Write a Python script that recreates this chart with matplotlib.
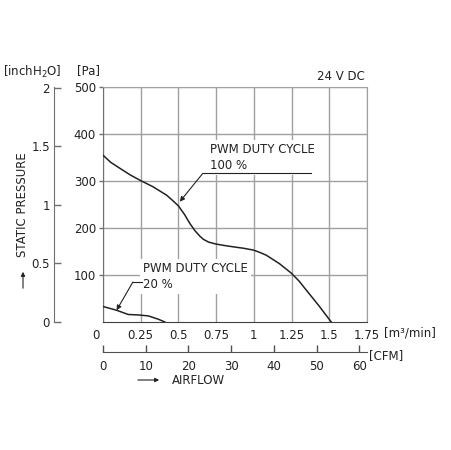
import numpy as np
import matplotlib
matplotlib.use("Agg")
import matplotlib.pyplot as plt

# airflow [m3/min] vs static pressure [Pa]
flow100 = [0, 0.05, 0.112, 0.18, 0.249, 0.33, 0.421, 0.46, 0.50, 0.54, 0.575, 0.61, 0.641,
           0.665, 0.70, 0.747, 0.80, 0.862, 0.93, 0.997, 1.04, 1.083, 1.17, 1.248, 1.30, 1.347,
           1.39, 1.435, 1.475, 1.513]
pa100 = [355, 340, 327, 313, 301, 288, 270, 259, 247, 229, 210, 194, 183,
         176, 170, 166, 163, 160, 157, 153, 148, 142, 124, 104, 87, 68,
         51, 33, 16, 0]
flow20 = [0, 0.09, 0.167, 0.233, 0.30, 0.366, 0.41]
pa20 = [33, 25, 16, 15, 13, 6, 0]

x_ticks = [0, 0.25, 0.5, 0.75, 1, 1.25, 1.5, 1.75]
x_labels = ["", "0.25", "0.5", "0.75", "1", "1.25", "1.5", "1.75"]
pa_ticks = [100, 200, 300, 400, 500]
inch_ticks = [0, 0.5, 1, 1.5, 2]
inch_labels = ["0", "0.5", "1", "1.5", "2"]
cfm_ticks = [0, 10, 20, 30, 40, 50, 60]

PA_PER_INCH = 249.09
CFM_PER_M3 = 35.3147

plt.rcParams['font.family'] = 'DejaVu Sans'
fs = 8.5
grid_c = '#a0a0a0'
spine_c = '#707070'

fig = plt.figure(figsize=(4.51, 4.50), dpi=100)
ax = fig.add_axes([103/451, 1-322/450, 264/451, 235/450])
ax.set_xlim(0, 1.75)
ax.set_ylim(0, 500)

ax.set_xticks(x_ticks)
ax.set_xticklabels(x_labels)
ax.set_yticks(pa_ticks)
ax.grid(True, color=grid_c, lw=1.0, zorder=0)
ax.set_axisbelow(True)
for s in ['top', 'right']:
    ax.spines[s].set_color(grid_c)
ax.spines['left'].set_color(spine_c)
ax.spines['bottom'].set_color('#404040')
ax.tick_params(axis='x', length=0, pad=5, labelsize=fs, colors='#222222')
ax.tick_params(axis='y', length=3, width=1, pad=2, labelsize=fs, color=spine_c, labelcolor='#222222')
ax.annotate("0", xy=(0, 0), xytext=(-7, -7), textcoords='offset pixels',
            ha='center', va='top', fontsize=fs, color='#222222', annotation_clip=False)

ax.plot(flow100, pa100, color='#222222', lw=1.1, zorder=3)
ax.plot(flow20, pa20, color='#222222', lw=1.1, zorder=3)

# labels for curves
ax.text(0.708, 381, "PWM DUTY CYCLE\n100 %", fontsize=fs, ha='left', va='top',
        linespacing=1.3, color='#222222', zorder=4,
        bbox=dict(fc='white', ec='none', pad=2))
ax.plot([0.661, 1.382], [316, 316], color='#222222', lw=0.8, zorder=4)
ax.annotate("", xy=(0.509, 256), xytext=(0.661, 316),
            arrowprops=dict(arrowstyle='-|>', color='#222222', lw=0.8, mutation_scale=7,
                            shrinkA=0, shrinkB=0), zorder=4)

ax.text(0.265, 128, "PWM DUTY CYCLE\n20 %", fontsize=fs, ha='left', va='top',
        linespacing=1.3, color='#222222', zorder=4,
        bbox=dict(fc='white', ec='none', pad=2))
ax.plot([0.198, 0.258], [85, 85], color='#222222', lw=0.8, zorder=4)
ax.annotate("", xy=(0.09, 25), xytext=(0.198, 85),
            arrowprops=dict(arrowstyle='-|>', color='#222222', lw=0.8, mutation_scale=7,
                            shrinkA=0, shrinkB=0), zorder=4)

# inchH2O axis
sy = ax.secondary_yaxis((54-103)/264, functions=(lambda p: p/PA_PER_INCH, lambda i: i*PA_PER_INCH))
sy.set_yticks(inch_ticks)
sy.set_yticklabels(inch_labels)
sy.spines['left'].set_color(spine_c)
sy.tick_params(direction='in', length=5, width=1, pad=3, labelsize=fs, color=spine_c, labelcolor='#222222')

# CFM axis
sx = ax.secondary_xaxis(-30/235, functions=(lambda m: m*CFM_PER_M3, lambda c: c/CFM_PER_M3))
sx.set_xticks(cfm_ticks)
sx.spines['bottom'].set_color('#505050')
sx.tick_params(direction='in', length=5, width=1, pad=6, labelsize=fs, color='#505050', labelcolor='#222222')

# axis titles
fig.text(3/451, 1-72/450, "[inchH$_2$O]", fontsize=fs, ha='left', va='center', color='#222222')
fig.text(77/451, 1-71/450, "[Pa]", fontsize=fs, ha='left', va='center', color='#222222')
fig.text(365/451, 1-77/450, "24 V DC", fontsize=fs, ha='right', va='center', color='#222222')
fig.text(384/451, 1-333/450, "[m³/min]", fontsize=fs, ha='left', va='center', color='#222222')
fig.text(369/451, 1-356/450, "[CFM]", fontsize=fs, ha='left', va='center', color='#222222')
fig.text(23/451, 1-205/450, "STATIC PRESSURE", fontsize=fs, rotation=90,
         ha='center', va='center', color='#222222')
fig.text(172/451, 1-380/450, "AIRFLOW", fontsize=fs, ha='left', va='center', color='#222222')
fig.add_artist(matplotlib.patches.FancyArrowPatch((23/451, 1-291/450), (23/451, 1-269/450),
               transform=fig.transFigure, arrowstyle='-|>', mutation_scale=6, lw=0.8, color='#222222'))
fig.add_artist(matplotlib.patches.FancyArrowPatch((135/451, 1-380/450), (162/451, 1-380/450),
               transform=fig.transFigure, arrowstyle='-|>', mutation_scale=6, lw=0.8, color='#222222'))

fig.savefig("out.png", dpi=100)
